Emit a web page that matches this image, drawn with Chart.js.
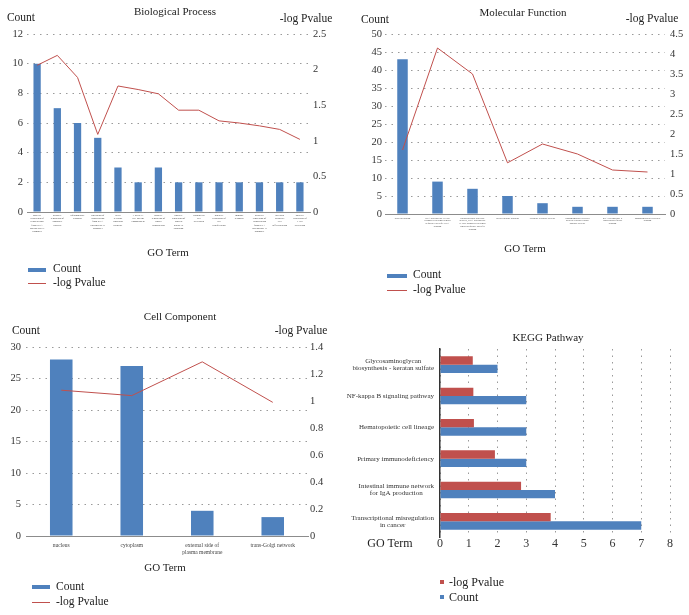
<!DOCTYPE html>
<html lang="en">
<head>
<meta charset="UTF-8">
<title>GO and KEGG enrichment</title>
<script src="https://cdn.jsdelivr.net/npm/chart.js"></script>
<style>
  body { margin: 0; background: #fff; font-family: "Liberation Serif", serif; color: #222; }
  .page { position: relative; width: 689px; height: 615px; overflow: hidden; }
  canvas { position: absolute; }
  .t { position: absolute; white-space: nowrap; transform: translate(-50%, -50%); font-size: 11.5px; line-height: 1; }
  .l { position: absolute; white-space: nowrap; transform: translateY(-50%); font-size: 11.5px; line-height: 1; }
  .sw { position: absolute; }
</style>
</head>
<body>
<div class="page">
  <canvas id="bp" width="345" height="300" style="left:0;top:0"></canvas>
  <canvas id="mf" width="344" height="300" style="left:345px;top:0"></canvas>
  <canvas id="cc" width="345" height="315" style="left:0;top:300px"></canvas>
  <canvas id="kegg" width="344" height="315" style="left:345px;top:300px"></canvas>

  <!-- Biological Process -->
  <div class="t" style="left:175px;top:11px;font-size:11px">Biological Process</div>
  <div class="t" style="left:21px;top:18px">Count</div>
  <div class="t" style="left:306px;top:19px">-log Pvalue</div>
  <div class="t" style="left:168px;top:252px;font-size:11px">GO Term</div>
  <div class="sw" style="left:28px;top:268px;width:18px;height:3.5px;background:#4f81bd"></div>
  <div class="l" style="left:53px;top:269px">Count</div>
  <div class="sw" style="left:28px;top:282.5px;width:18px;height:1px;background:#c0504d"></div>
  <div class="l" style="left:53px;top:283px">-log Pvalue</div>

  <!-- Molecular Function -->
  <div class="t" style="left:523px;top:12px;font-size:11px">Molecular Function</div>
  <div class="t" style="left:375px;top:20px">Count</div>
  <div class="t" style="left:652px;top:19px">-log Pvalue</div>
  <div class="t" style="left:525px;top:248px;font-size:11px">GO Term</div>
  <div class="sw" style="left:387px;top:274px;width:20px;height:3.5px;background:#4f81bd"></div>
  <div class="l" style="left:413px;top:275px">Count</div>
  <div class="sw" style="left:387px;top:289.5px;width:20px;height:1px;background:#c0504d"></div>
  <div class="l" style="left:413px;top:290px">-log Pvalue</div>

  <!-- Cell Component -->
  <div class="t" style="left:180px;top:316px;font-size:11px">Cell Component</div>
  <div class="t" style="left:26px;top:331px">Count</div>
  <div class="t" style="left:301px;top:331px">-log Pvalue</div>
  <div class="t" style="left:165px;top:567px;font-size:11px">GO Term</div>
  <div class="sw" style="left:32px;top:585px;width:18px;height:3.5px;background:#4f81bd"></div>
  <div class="l" style="left:56px;top:587px">Count</div>
  <div class="sw" style="left:32px;top:601.5px;width:18px;height:1px;background:#c0504d"></div>
  <div class="l" style="left:56px;top:602px">-log Pvalue</div>

  <!-- KEGG Pathway -->
  <div class="t" style="left:548px;top:337px;font-size:11px">KEGG Pathway</div>
  <div class="t" style="left:390px;top:543px;font-size:12px">GO Term</div>
  <div class="sw" style="left:440px;top:580px;width:4px;height:4px;background:#c0504d"></div>
  <div class="l" style="left:449px;top:582px;font-size:12px">-log Pvalue</div>
  <div class="sw" style="left:440px;top:595px;width:4px;height:4px;background:#4f81bd"></div>
  <div class="l" style="left:449px;top:597px;font-size:12px">Count</div>
</div>

<script>
  const bpTerms = [
    'positive regulation of transcription from RNA polymerase II promoter',
    'negative regulation of apoptotic process',
    'inflammatory response',
    'regulation of transcription from RNA polymerase II promoter',
    'B cell receptor signaling pathway',
    'T-helper 1 cell lineage commitment',
    'positive regulation of signal transduction',
    'positive regulation of protein kinase B signaling',
    'endothelial cell activation',
    'negative regulation of cell proliferation',
    'immune response',
    'negative regulation of transcription from RNA polymerase II promoter',
    'myeloid dendritic cell differentiation',
    'positive regulation of T cell activation'
  ];
  const bpCount = [10, 7, 6, 5, 3, 2, 3, 2, 2, 2, 2, 2, 2, 2];
  const bpLogP = [2.06, 2.2, 1.89, 1.09, 1.77, 1.72, 1.66, 1.43, 1.43, 1.28, 1.25, 1.21, 1.16, 1.02];

  const mfTerms = [
    'protein binding',
    'RNA polymerase II core promoter proximal region sequence-specific DNA binding',
    'transcriptional activator activity, RNA polymerase II core promoter proximal region sequence-specific binding',
    'protein kinase binding',
    'cytokine receptor activity',
    'transmembrane receptor protein tyrosine kinase adaptor activity',
    'RNA polymerase II transcription factor binding',
    'immunoglobulin receptor binding'
  ];
  const mfCount = [43, 9, 7, 5, 3, 2, 2, 2];
  const mfLogP = [1.6, 4.15, 3.5, 1.28, 1.75, 1.5, 1.1, 1.05];

  const ccTerms = ['nucleus', 'cytoplasm', 'external side of plasma membrane', 'trans-Golgi network'];
  const ccCount = [28, 27, 4, 3];
  const ccLogP = [1.08, 1.04, 1.29, 0.99];

  const keggTerms = [
    ['Glycosaminoglycan', 'biosynthesis - keratan sulfate'],
    ['NF-kappa B signaling pathway'],
    ['Hematopoietic cell lineage'],
    ['Primary immunodeficiency'],
    ['Intestinal immune network', 'for IgA production'],
    ['Transcriptional misregulation', 'in cancer']
  ];
  const keggLogP = [1.14, 1.16, 1.18, 1.91, 2.82, 3.85];
  const keggCount = [2, 3, 3, 3, 4, 7];

  const BLUE = '#4f81bd';
  const RED = '#c0504d';
  const SERIF = '"Liberation Serif", serif';
  Chart.defaults.font.family = SERIF;
  Chart.defaults.color = '#333';

  // split a long term into short lines for the tiny axis labels
  function wrap(text, max) {
    const lines = [];
    let cur = '';
    text.split(' ').forEach(w => {
      if (cur && (cur + ' ' + w).length > max) { lines.push(cur); cur = w; }
      else cur = cur ? cur + ' ' + w : w;
    });
    if (cur) lines.push(cur);
    return lines;
  }

  // Excel style numbers: 1 instead of 1.0
  const plain = v => String(+v.toFixed(2));

  function goChart(id, terms, counts, logp, o) {
    return new Chart(document.getElementById(id), {
      type: 'bar',
      data: {
        labels: terms.map(t => wrap(t, o.wrap)),
        datasets: [
          { type: 'line', label: '-log Pvalue', data: logp, yAxisID: 'y1', borderColor: RED,
            borderWidth: 1, pointRadius: 0, tension: 0, order: 0 },
          { label: 'Count', data: counts, yAxisID: 'y', backgroundColor: BLUE,
            barPercentage: o.bar, categoryPercentage: 1, order: 1 }
        ]
      },
      options: {
        responsive: false,
        animation: false,
        layout: { padding: { top: o.top } },
        plugins: { legend: { display: false }, tooltip: { enabled: false } },
        scales: {
          x: {
            grid: { display: false, drawTicks: false },
            border: { display: true, color: '#8c8c8c' },
            ticks: { font: { size: o.lab, lineHeight: o.lh }, color: '#444', autoSkip: false, maxRotation: 0, padding: o.xpad },
            afterFit: s => { s.height = o.xh; }
          },
          y: {
            position: 'left', min: 0, max: o.ymax,
            ticks: { stepSize: o.ystep, font: { size: 10.5 }, padding: o.lpad, callback: plain },
            grid: { color: '#9a9a9a', drawTicks: false },
            border: { display: false, dash: [1.5, 5] },
            afterFit: s => { s.width = o.lw; }
          },
          y1: {
            position: 'right', min: 0, max: o.rmax,
            ticks: { stepSize: o.rstep, font: { size: 10.5 }, padding: o.rpad, callback: plain },
            grid: { display: false, drawTicks: false },
            border: { display: false },
            afterFit: s => { s.width = o.rw; }
          }
        }
      }
    });
  }

  goChart('bp', bpTerms, bpCount, bpLogP, {
    wrap: 13, lab: 2.6, lh: 1.2, xpad: 2, xh: 88, top: 34, bar: 0.36,
    ymax: 12, ystep: 2, lw: 27, lpad: 4, rmax: 2.5, rstep: 0.5, rw: 35, rpad: 3
  });
  goChart('mf', mfTerms, mfCount, mfLogP, {
    wrap: 26, lab: 2.5, lh: 1.15, xpad: 2.5, xh: 86, top: 34, bar: 0.3,
    ymax: 50, ystep: 5, lw: 40, lpad: 3, rmax: 4.5, rstep: 0.5, rw: 24, rpad: 5
  });
  goChart('cc', ccTerms, ccCount, ccLogP, {
    wrap: 20, lab: 5.5, lh: 1.2, xpad: 6.5, xh: 79, top: 47, bar: 0.32,
    ymax: 30, ystep: 5, lw: 26, lpad: 5, rmax: 1.4, rstep: 0.2, rw: 37, rpad: 2
  });

  // KEGG labels: each multi-line block is right-aligned, its lines centred
  const keggLabels = {
    id: 'keggLabels',
    afterDraw(chart) {
      const { ctx, scales: { y } } = chart;
      ctx.save();
      ctx.font = '7px ' + SERIF;
      ctx.fillStyle = '#333';
      ctx.textAlign = 'center';
      ctx.textBaseline = 'middle';
      keggTerms.forEach((lines, i) => {
        const w = Math.max(...lines.map(l => ctx.measureText(l).width));
        const cx = y.right - 6 - w / 2;
        const cy = y.getPixelForValue(i);
        lines.forEach((l, k) => ctx.fillText(l, cx, cy + (k - (lines.length - 1) / 2) * 6.7));
      });
      ctx.restore();
    }
  };

  new Chart(document.getElementById('kegg'), {
    type: 'bar',
    data: {
      labels: keggTerms.map(l => l.join(' ')),
      datasets: [
        { label: '-log Pvalue', data: keggLogP, backgroundColor: RED },
        { label: 'Count', data: keggCount, backgroundColor: BLUE }
      ]
    },
    options: {
      indexAxis: 'y',
      responsive: false,
      animation: false,
      datasets: { bar: { barPercentage: 1, categoryPercentage: 0.53 } },
      layout: { padding: { top: 49, right: 19 } },
      plugins: { legend: { display: false }, tooltip: { enabled: false } },
      scales: {
        x: {
          min: 0, max: 8,
          ticks: { stepSize: 1, font: { size: 12 }, padding: 0 },
          grid: { color: '#9a9a9a', drawTicks: false },
          border: { display: false, dash: [1.5, 5] },
          afterFit: s => { s.height = 78; }
        },
        y: {
          ticks: { display: false },
          grid: { display: false, drawTicks: false },
          border: { display: true, color: '#333', width: 1.5 },
          afterFit: s => { s.width = 95; }
        }
      }
    },
    plugins: [keggLabels]
  });
</script>
</body>
</html>
